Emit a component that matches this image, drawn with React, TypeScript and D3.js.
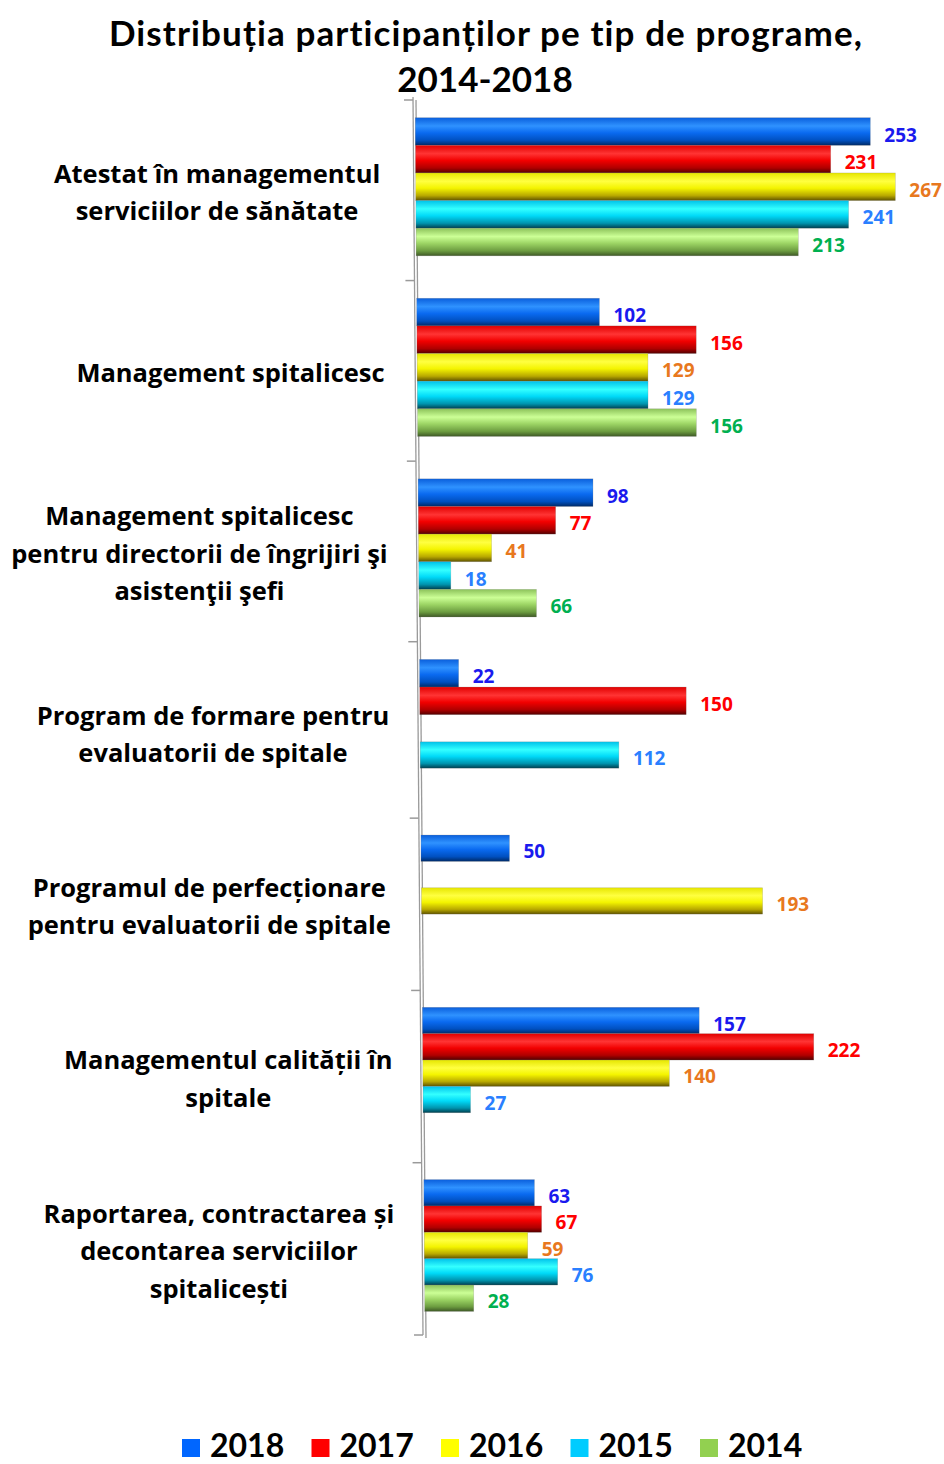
import * as d3 from "d3";
import { useEffect, useRef } from "react";

// categories (top to bottom), each one split into label lines
const categories = [
  ["Atestat în managementul", "serviciilor de sănătate"],
  ["Management spitalicesc"],
  ["Management spitalicesc", "pentru directorii de îngrijiri şi", "asistenţii şefi"],
  ["Program de formare pentru", "evaluatorii de spitale"],
  ["Programul de perfecționare", "pentru evaluatorii de spitale"],
  ["Managementul calității în", "spitale"],
  ["Raportarea, contractarea și", "decontarea serviciilor", "spitalicești"],
];

const years = ["2018", "2017", "2016", "2015", "2014"];

// values per year, one per category (null = no bar)
const v2018 = [253, 102, 98, 22, 50, 157, 63];
const v2017 = [231, 156, 77, 150, null, 222, 67];
const v2016 = [267, 129, 41, null, 193, 140, 59];
const v2015 = [241, 129, 18, 112, null, 27, 76];
const v2014 = [213, 156, 66, null, null, null, 28];

const seriesValues = [v2018, v2017, v2016, v2015, v2014];

const legendColors = ["#0066ff", "#ff0000", "#ffff00", "#00ccff", "#92d050"];
const labelColors = ["#1a1aee", "#ff0000", "#e8781e", "#2a7fff", "#00b050"];
// cylinder-like shading for bars
const barStops = [
  ["#0a5fdc", "#2f92ff", "#0a6af0", "#0050c0", "#002a66"],
  ["#e00000", "#ff3434", "#f20000", "#b00000", "#520000"],
  ["#e6e600", "#ffff40", "#f4f400", "#b8a800", "#5e5200"],
  ["#00c2ea", "#34ffff", "#00daf8", "#0094ae", "#003e4e"],
  ["#8cc25a", "#ccff96", "#9cd464", "#6c9c40", "#3e5826"],
];

const W = 944;
const H = 1464;

const App = () => {
  const ref = useRef(null);

  useEffect(() => {
    const svg = d3.select(ref.current);
    svg.selectAll("*").remove();

    const n = categories.length;

    // perspective: rows get slightly thinner, the wall shifts right and the value scale shrinks going down
    const yPos = d3.scaleLinear().domain([0, n / 2, n]).range([100, 732, 1335]);
    const wallX = d3.scaleLinear().domain([0, n]).range([415, 425]);
    const unit = d3.scaleLinear().domain([0, n]).range([1.8, 1.75]);
    // gap between the label block and the wall
    const labelGap = d3.scaleLinear().domain([0, 2, n]).range([37, 31, 30]).clamp(true);

    const barStart = 0.098;
    const barStep = 0.153;

    const defs = svg.append("defs");
    barStops.forEach((stops, i) => {
      const g = defs
        .append("linearGradient")
        .attr("id", "grad" + i)
        .attr("x1", 0)
        .attr("y1", 0)
        .attr("x2", 0)
        .attr("y2", 1);
      const offs = [0, 0.3, 0.55, 0.82, 1];
      stops.forEach((c, k) => {
        g.append("stop").attr("offset", offs[k]).attr("stop-color", c);
      });
    });

    // title
    const title = svg
      .append("text")
      .attr("text-anchor", "middle")
      .attr("font-family", "Lato")
      .attr("font-weight", "bold")
      .attr("font-size", 35)
      .attr("fill", "#000");
    title
      .append("tspan")
      .attr("x", 486)
      .attr("y", 46)
      .attr("letter-spacing", 1.1)
      .text("Distribuția participanților pe tip de programe,");
    title.append("tspan").attr("x", 485).attr("y", 92).text("2014-2018");

    // axis wall (double line) and ticks
    const axis = svg.append("g").attr("stroke", "#9a9a9a").attr("fill", "none");
    axis
      .append("line")
      .attr("x1", wallX(0) - 2)
      .attr("y1", yPos(0) - 3)
      .attr("x2", wallX(n) - 2)
      .attr("y2", yPos(n))
      .attr("stroke-width", 1.3);
    axis
      .append("line")
      .attr("x1", wallX(0) + 1)
      .attr("y1", yPos(0))
      .attr("x2", wallX(n) + 1)
      .attr("y2", yPos(n) + 3)
      .attr("stroke-width", 1.3);
    d3.range(n + 1).forEach((i) => {
      axis
        .append("line")
        .attr("x1", wallX(i) - 11)
        .attr("x2", wallX(i) - 2)
        .attr("y1", yPos(i))
        .attr("y2", yPos(i))
        .attr("stroke-width", 1.5);
    });

    // bars
    const bars = svg.append("g");
    const labels = svg.append("g").attr("font-family", "Open Sans").attr("font-weight", "bold").attr("font-size", 19);
    seriesValues.forEach((vals, s) => {
      vals.forEach((v, c) => {
        if (v == null) return;
        const t0 = c + barStart + s * barStep;
        const t1 = t0 + barStep;
        const y0 = yPos(t0);
        const y1 = yPos(t1);
        const tm = (t0 + t1) / 2;
        const x = d3.scaleLinear().domain([0, 1]).range([wallX(tm), wallX(tm) + unit(tm)]);
        bars
          .append("rect")
          .attr("x", x(0))
          .attr("y", y0)
          .attr("width", x(v) - x(0))
          .attr("height", y1 - y0)
          .attr("fill", `url(#grad${s})`)
          .attr("stroke", "rgba(120,120,120,0.35)")
          .attr("stroke-width", 0.6);
        labels
          .append("text")
          .attr("x", x(v) + 14)
          .attr("y", (y0 + y1) / 2)
          .attr("dy", "0.53em")
          .attr("fill", labelColors[s])
          .text(v);
      });
    });

    // category labels: block right-aligned near the wall, lines centred inside it
    const catG = svg
      .append("g")
      .attr("font-family", "Open Sans")
      .attr("font-weight", "bold")
      .attr("font-size", 25.5)
      .attr("fill", "#000")
      .attr("text-anchor", "middle");
    const lineH = 37.5;
    categories.forEach((lines, c) => {
      const cy = yPos(c + 0.5) + 2.5;
      const txt = catG.append("text");
      lines.forEach((l, k) => {
        txt
          .append("tspan")
          .attr("x", 0)
          .attr("y", cy + (k - (lines.length - 1) / 2) * lineH)
          .attr("dy", "0.35em")
          .text(l);
      });
      let maxW = 0;
      txt.selectAll("tspan").each(function () {
        maxW = Math.max(maxW, this.getComputedTextLength());
      });
      const right = wallX(c + 0.5) - labelGap(c + 0.5);
      txt.selectAll("tspan").attr("x", right - maxW / 2);
    });

    // legend
    const leg = d3.scaleBand().domain(years).range([182, 182 + 129.5 * years.length]);
    const lg = svg.append("g");
    years.forEach((yr, i) => {
      lg.append("rect")
        .attr("x", leg(yr))
        .attr("y", 1439)
        .attr("width", 18)
        .attr("height", 18)
        .attr("fill", legendColors[i]);
      lg.append("text")
        .attr("x", leg(yr) + 28)
        .attr("y", 1457)
        .attr("font-family", "Lato")
        .attr("font-weight", "bold")
        .attr("font-size", 32)
        .attr("fill", "#000")
        .text(yr);
    });
  }, []);

  return (
    <svg
      ref={ref}
      width={W}
      height={H}
      style={{ position: "absolute", left: 0, top: 0, background: "#fff" }}
    />
  );
};

export default App;
